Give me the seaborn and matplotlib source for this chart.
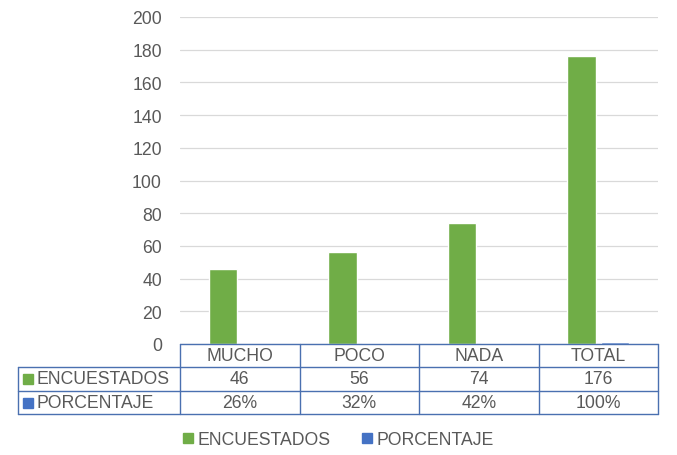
import matplotlib
matplotlib.use("Agg")
import matplotlib.pyplot as plt
from matplotlib.lines import Line2D
import pandas as pd
import seaborn as sns

# datos
categorias = ["MUCHO", "POCO", "NADA", "TOTAL"]
encuestados = [46, 56, 74, 176]
porcentaje = [0.26, 0.32, 0.42, 1.00]
series = ["ENCUESTADOS", "PORCENTAJE"]
colores = ["#70AD47", "#4472C4"]

df = pd.DataFrame({
    "categoria": categorias * 2,
    "serie": [series[0]] * 4 + [series[1]] * 4,
    "valor": encuestados + porcentaje,
})

sns.set_style("white")
plt.rcParams["font.family"] = ["Liberation Sans", "DejaVu Sans"]

fs = 12.7
gris = "#595959"

fig = plt.figure(figsize=(6.77, 4.56), dpi=100)
W, H = 677, 456
x0, x1, ytop, ybot = 180, 658, 18, 345
ax = fig.add_axes([x0 / W, 1 - ybot / H, (x1 - x0) / W, (ybot - ytop) / H])

sns.barplot(data=df, x="categoria", y="valor", hue="serie", order=categorias,
            hue_order=series, palette=colores, width=0.56, gap=0.15,
            saturation=1, ax=ax)
ax.get_legend().remove()

ax.set_ylim(0, 200)
ax.set_yticks(range(0, 201, 20))
ax.yaxis.grid(True, color="#d9d9d9", linewidth=0.9)
ax.set_axisbelow(True)
for s in ax.spines.values():
    s.set_visible(False)
ax.set_xlabel("")
ax.set_ylabel("")
ax.set_xticks([])
ax.tick_params(axis="y", length=0, labelsize=fs, labelcolor=gris, pad=13)

# tabla de datos
borde = "#4a70b0"
lw = 1.0
def fx(px):
    return px / W
def fy(py):
    return 1 - py / H

cols = [x0 + i * (x1 - x0) / 4 for i in range(5)]
rows = [345, 368, 392, 415]
left = 18

def linea(xa, xb, ya, yb):
    fig.add_artist(Line2D([fx(xa), fx(xb)], [fy(ya), fy(yb)], color=borde, lw=lw))

linea(x0, x1, rows[0], rows[0])
for r in rows[1:]:
    linea(left, x1, r, r)
for c in cols:
    linea(c, c, rows[0], rows[3])
linea(left, left, rows[1], rows[3])

txt = dict(fontsize=fs, color=gris, ha="center", va="center")
for i, cat in enumerate(categorias):
    cx = (cols[i] + cols[i + 1]) / 2
    fig.text(fx(cx), fy((rows[0] + rows[1]) / 2), cat, **txt)
    fig.text(fx(cx), fy((rows[1] + rows[2]) / 2), str(encuestados[i]), **txt)
    fig.text(fx(cx), fy((rows[2] + rows[3]) / 2), f"{round(porcentaje[i] * 100)}%", **txt)

for j, (nombre, col) in enumerate(zip(series, colores)):
    cy = (rows[j + 1] + rows[j + 2]) / 2
    fig.add_artist(Line2D([fx(28)], [fy(cy)], marker="s", markersize=6.5,
                          color=col, linestyle="none"))
    fig.text(fx(36), fy(cy), nombre, fontsize=fs, color=gris,
             ha="left", va="center")

handles = [Line2D([], [], marker="s", markersize=6.5, color=c, linestyle="none")
           for c in colores]
fig.legend(handles, series, loc="center", bbox_to_anchor=(0.5, fy(441)),
           ncol=2, frameon=False, fontsize=fs, handlelength=0.5,
           handletextpad=0.3, columnspacing=1.8, labelcolor=gris)

fig.savefig("out.png", dpi=100)
